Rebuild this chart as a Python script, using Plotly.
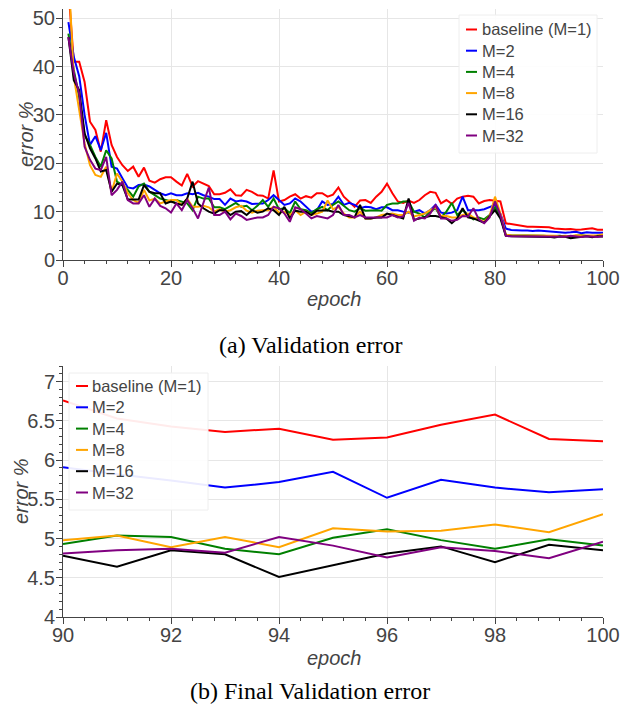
import plotly.graph_objects as go

epochs = list(range(1, 101))
names = ["baseline (M=1)", "M=2", "M=4", "M=8", "M=16", "M=32"]
colors = ["#ff0000", "#0000ff", "#008000", "#ffa500", "#000000", "#800080"]

m1 = [56, 41, 41, 36.8, 28.6, 26.9, 22.4, 28.9, 23.8, 21.3,
      19.6, 18.4, 19.3, 17.2, 19.1, 16.4, 16.0, 16.7, 17.1, 17.1,
      16.2, 15.4, 17.8, 15.2, 16.3, 15.8, 15.3, 13.6, 13.6, 13.9,
      14.6, 13.4, 13.3, 14.5, 14.1, 13.4, 13.3, 12.7, 18.5, 12.1,
      12.4, 13.1, 13.6, 12.7, 13.2, 12.9, 13.8, 13.8, 13.1, 13.5,
      15.0, 13.1, 12.1, 11.0, 12.3, 12.4, 11.8, 13.1, 14.1, 15.8,
      13.8, 12.1, 11.8, 12.3, 11.8, 12.4, 13.4, 14.1, 13.9, 11.7,
      12.4, 11.6, 12.7, 13.1, 13.3, 13.1, 11.7, 12.2, 12.4, 12.3,
      12.1, 7.6, 7.4, 7.2, 7.0, 6.9, 6.9, 6.9, 6.8, 6.76,
      6.53, 6.43, 6.36, 6.40, 6.26, 6.29, 6.45, 6.58, 6.27, 6.24]

m2 = [49.2, 42, 38, 30, 23.8, 25.6, 22.7, 26.3, 19.3, 18.9,
      16.9, 15.0, 14.8, 15.5, 15.6, 15.2, 14.5, 13.8, 13.4, 13.8,
      13.4, 13.4, 13.8, 13.6, 13.9, 13.4, 13.1, 12.6, 12.6, 11.4,
      12.7, 12.1, 12.3, 12.1, 11.6, 11.6, 11.7, 12.4, 13.4, 12.4,
      11.4, 11.7, 12.7, 12.1, 11.0, 10.0, 10.3, 12.1, 11.4, 11.6,
      13.1, 11.4, 11.8, 11.4, 10.7, 11.0, 10.9, 10.5, 10.9, 10.9,
      10.3, 10.3, 10.0, 9.8, 10.0, 10.3, 9.6, 10.3, 11.4, 9.8,
      9.6, 9.8, 10.3, 13.1, 10.3, 10.3, 10.3, 10.5, 10.9, 11.4,
      9.6, 6.5, 6.2, 6.1, 6.1, 6.1, 6.0, 6.1, 6.0, 5.91,
      5.82, 5.74, 5.65, 5.72, 5.85, 5.52, 5.75, 5.65, 5.59, 5.63]

m4 = [46.8, 39.3, 33.7, 25.8, 23.8, 21.3, 19.3, 22.7, 21.0, 16.2,
      15.5, 14.5, 13.1, 15.2, 15.8, 14.1, 13.4, 12.7, 12.4, 12.1,
      12.4, 12.1, 11.7, 10.3, 13.1, 12.7, 12.7, 10.9, 10.9, 10.5,
      11.2, 11.8, 11.0, 11.2, 10.3, 11.2, 12.4, 11.0, 12.7, 10.5,
      10.7, 9.7, 12.1, 10.5, 10.3, 9.7, 10.5, 11.0, 10.3, 11.4,
      12.1, 11.2, 10.3, 10.0, 10.7, 10.2, 10.3, 10.3, 10.2, 11.4,
      11.7, 11.7, 12.1, 12.1, 10.0, 9.6, 8.8, 10.0, 10.7, 8.8,
      10.0, 11.8, 9.3, 10.3, 9.3, 8.4, 8.8, 8.4, 9.3, 10.9,
      9.0, 5.2, 5.1, 5.1, 5.0, 5.0, 5.0, 5.0, 5.0, 4.93,
      5.04, 5.02, 4.87, 4.80, 5.01, 5.12, 4.98, 4.87, 4.99, 4.91]

m8 = [60, 37.9, 31.0, 24.1, 19.6, 17.6, 17.2, 19.3, 14.1, 17.9,
      16.2, 13.8, 12.4, 11.8, 14.5, 12.3, 12.7, 11.7, 12.1, 12.4,
      12.4, 11.4, 12.7, 11.0, 11.0, 11.2, 10.9, 10.0, 10.5, 10.0,
      10.3, 10.9, 11.2, 10.2, 9.8, 10.2, 10.3, 10.3, 11.0, 9.8,
      10.0, 9.3, 10.3, 9.3, 10.0, 9.3, 9.6, 10.0, 12.3, 10.5,
      11.0, 9.6, 8.8, 8.8, 10.0, 8.6, 8.6, 8.8, 9.3, 9.5,
      9.6, 9.3, 9.3, 10.0, 9.0, 9.3, 9.6, 10.3, 10.9, 9.1,
      9.1, 8.8, 8.8, 9.3, 9.6, 8.8, 8.3, 7.9, 9.1, 13.1,
      9.6, 5.2, 5.1, 5.1, 5.1, 5.0, 5.0, 5.0, 5.0, 4.98,
      5.04, 4.89, 5.02, 4.89, 5.13, 5.09, 5.10, 5.18, 5.08, 5.31]

m16 = [46.1, 37.2, 35.1, 26.2, 23.1, 21.0, 18.3, 18.6, 14.1, 15.8,
       15.5, 12.5, 12.5, 12.5, 15.5, 14.1, 13.8, 13.8, 11.7, 12.1,
       11.7, 11.4, 12.7, 16.2, 11.7, 10.7, 10.0, 9.6, 10.3, 10.3,
       9.3, 10.0, 10.1, 9.3, 10.3, 9.8, 10.0, 10.7, 10.3, 9.3,
       11.0, 8.6, 10.2, 10.0, 10.0, 9.3, 10.2, 10.3, 10.3, 10.0,
       10.0, 9.3, 9.1, 8.8, 11.4, 8.6, 8.6, 8.8, 8.8, 9.6,
       9.3, 9.0, 8.6, 12.7, 8.3, 8.6, 8.8, 9.1, 9.1, 8.8,
       8.6, 7.6, 8.6, 10.7, 8.8, 8.6, 8.1, 7.7, 9.0, 10.3,
       8.6, 5.0, 4.9, 4.9, 4.9, 4.9, 4.8, 4.9, 4.8, 4.78,
       4.64, 4.85, 4.80, 4.51, 4.66, 4.81, 4.90, 4.70, 4.92, 4.85]

m32 = [46.1, 38.6, 34.4, 23.4, 20.7, 18.9, 18.6, 21.3, 13.4, 14.5,
       16.2, 12.4, 11.7, 11.7, 13.4, 11.0, 12.7, 11.2, 10.7, 9.8,
       11.7, 10.3, 12.4, 10.7, 8.6, 12.0, 15.0, 9.3, 9.3, 10.0,
       8.4, 9.6, 9.1, 8.3, 8.6, 8.8, 8.8, 9.3, 11.0, 10.7,
       9.6, 7.9, 10.9, 10.5, 9.6, 8.6, 9.1, 8.8, 8.6, 9.3,
       11.4, 9.3, 9.3, 8.8, 9.3, 8.8, 8.8, 8.8, 8.8, 8.8,
       9.3, 8.8, 9.0, 11.8, 8.1, 8.8, 8.6, 9.6, 11.4, 8.6,
       8.6, 8.1, 8.3, 9.1, 9.0, 10.7, 8.4, 7.6, 8.8, 12.1,
       9.3, 5.0, 4.9, 4.9, 4.9, 4.9, 4.9, 4.9, 4.9, 4.81,
       4.85, 4.87, 4.82, 5.02, 4.91, 4.76, 4.89, 4.84, 4.75, 4.96]

series = [m1, m2, m4, m8, m16, m32]
final_start = 90  # bottom panel shows epochs 90..100

# page geometry (pixels)
W, H = 623, 711
ML, MR, MT, MB = 63, 20, 9, 94
PW, PH = W - ML - MR, H - MT - MB


def px(xp):
    return (xp - ML) / PW


def py(yp):
    return (H - MB - yp) / PH


fig = go.Figure()
for name, col, ys in zip(names, colors, series):
    fig.add_trace(go.Scatter(x=epochs, y=ys, mode="lines", name=name,
                             line=dict(color=col, width=2),
                             xaxis="x", yaxis="y", showlegend=False))
for name, col, ys in zip(names, colors, series):
    xs = [e for e in epochs if e >= final_start]
    yv = [v for e, v in zip(epochs, ys) if e >= final_start]
    fig.add_trace(go.Scatter(x=xs, y=yv, mode="lines", name=name,
                             line=dict(color=col, width=2),
                             xaxis="x2", yaxis="y2", showlegend=False))

FONT = "Liberation Sans, Arial, sans-serif"
tickfont = dict(family=FONT, size=20, color="#444")
titlefont = dict(family=FONT, size=20, color="#444", style="italic")
grid = "#e6e6e6"


def xax(rng, dt, mdt, anchor):
    return dict(range=rng, dtick=dt, tick0=rng[0], showgrid=True, gridcolor=grid,
                showline=True, linecolor="#444", linewidth=1, zeroline=False,
                ticks="outside", ticklen=6, tickcolor="#444", tickfont=tickfont,
                ticklabelstandoff=-6,
                minor=dict(ticks="outside", ticklen=3, dtick=mdt, tickcolor="#444", showgrid=False),
                anchor=anchor, domain=[0, 1], automargin=False)


def yax(rng, dt, mdt, dom, anchor):
    return dict(range=rng, dtick=dt, tick0=0, showgrid=True, gridcolor=grid,
                showline=True, linecolor="#444", linewidth=1, zeroline=False,
                ticks="outside", ticklen=6, tickcolor="#444", tickfont=tickfont,
                ticklabelstandoff=-3,
                minor=dict(ticks="outside", ticklen=3, dtick=mdt, tickcolor="#444", showgrid=False),
                anchor=anchor, domain=dom, automargin=False)


shapes = []
annotations = []
legfont = dict(family=FONT, size=16.5, color="#444")


def add_legend(box, line_x0, line_x1, text_x, first_y, step):
    x0, y0, x1, y1 = box
    shapes.append(dict(type="rect", xref="paper", yref="paper",
                       x0=px(x0), x1=px(x1), y0=py(y1), y1=py(y0),
                       fillcolor="rgba(255,255,255,0.92)", line=dict(color="#eeeeee", width=1),
                       layer="above"))
    for i, (name, col) in enumerate(zip(names, colors)):
        yy = first_y + i * step
        shapes.append(dict(type="line", xref="paper", yref="paper",
                           x0=px(line_x0), x1=px(line_x1), y0=py(yy), y1=py(yy),
                           line=dict(color=col, width=2), layer="above"))
        annotations.append(dict(text=name, x=px(text_x), y=py(yy), xref="paper", yref="paper",
                                showarrow=False, xanchor="left", yanchor="middle", font=legfont))


add_legend((459, 15, 597, 153), 466, 477, 480, 29.5, 21.2)
add_legend((69, 373, 208, 510), 76, 88, 90, 386, 21.3)


def label(text, x, y, angle=0, font=titlefont):
    annotations.append(dict(text=text, x=px(x), y=py(y), xref="paper", yref="paper",
                            showarrow=False, xanchor="center", yanchor="middle",
                            textangle=angle, font=font))


# axis titles
label("epoch", 334, 299)
label("epoch", 334, 658)
label("error %", 26, 134, -90)
label("error %", 21, 491, -90)

capfont = dict(family="Liberation Serif, Times New Roman, serif", size=24, color="black")
label("(a) Validation error", 310, 345, font=capfont)
label("(b) Final Validation error", 310, 691, font=capfont)

fig.update_layout(
    width=W, height=H,
    margin=dict(l=ML, r=MR, t=MT, b=MB, autoexpand=False),
    paper_bgcolor="white", plot_bgcolor="white",
    showlegend=False,
    xaxis=xax([0, 100], 20, 4, "y"),
    yaxis=yax([0, 51.9], 10, 2, [py(260), py(9)], "x"),
    xaxis2=xax([90, 100], 2, 0.4, "y2"),
    yaxis2=yax([4, 7.2], 0.5, 0.1, [py(617), py(366)], "x2"),
    shapes=shapes,
    annotations=annotations,
)

fig.write_html("out.html", config={"displayModeBar": False},
               post_script="document.body.style.margin='0';document.body.style.overflow='hidden';")
